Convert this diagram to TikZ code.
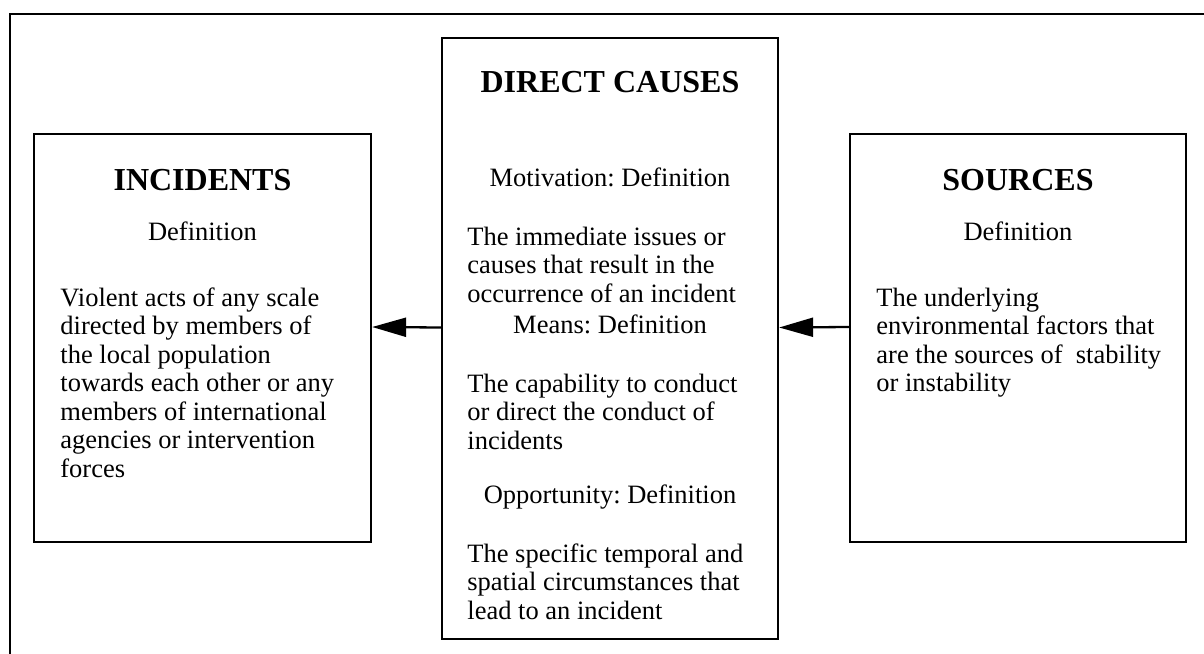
\documentclass[tikz,border=0pt]{standalone}
\usepackage{fontspec}
\setmainfont{Liberation Serif}
\usetikzlibrary{arrows.meta,positioning}
\frenchspacing
\newcommand{\bodysize}{\fontsize{13.25}{14.25}\selectfont}
\newcommand{\headsize}{\fontsize{16}{19}\selectfont\bfseries}

\begin{document}
\begin{tikzpicture}[x=0.5pt,y=-0.5pt,line join=miter,
  box/.style={draw,line width=1.15pt,inner sep=0pt},
  head/.style={font=\headsize,inner sep=0pt,anchor=base},
  sub/.style={font=\bodysize,inner sep=0pt,anchor=base},
  body/.style={font=\bodysize,inner sep=0pt,anchor=base west},
  flow/.style={-{Triangle[length=17pt,width=9.5pt]},line width=1.15pt}]
\useasboundingbox (0,0) rectangle (1204,653);
\coordinate (fb) at (10,670);
\coordinate (fc) at (10,14);
\coordinate (fr) at (1220,14);
\draw[line width=1.15pt] (fb)--(fc)--(fr);
\node[box,minimum width=168.5pt,minimum height=204pt] (inc) at (202.5,338) {};
\node[box,minimum width=168pt,minimum height=300.5pt] (dir) at (610,338.5) {};
\node[box,minimum width=168pt,minimum height=204pt] (src) at (1018,338) {};
\node[head] (inctitle) at (202.5,190) {INCIDENTS};
\node[sub] (incdef) at (202.5,240) {Definition};
\foreach \txt [count=\i from 0] in {Violent acts of any scale,directed by members of,the local population,towards each other or any,members of international,agencies or intervention,forces}
  \node[body] (incl\i) at (60,{306+28.5*\i}) {\txt};
\node[head] (dirtitle) at (610,92) {DIRECT CAUSES};
\node[sub] (motdef) at (610,186) {Motivation: Definition};
\foreach \txt [count=\i from 0] in {The immediate issues or,causes that result in the,occurrence of an incident}
  \node[body] (motl\i) at (467,{245+28.5*\i}) {\txt};
\node[sub] (meadef) at (610,333) {Means: Definition};
\foreach \txt [count=\i from 0] in {The capability to conduct,or direct the conduct of,incidents}
  \node[body] (meal\i) at (467,{392+28.5*\i}) {\txt};
\node[sub] (oppdef) at (610,503) {Opportunity: Definition};
\foreach \txt [count=\i from 0] in {The specific temporal and,spatial circumstances that,lead to an incident}
  \node[body] (oppl\i) at (467,{562+28.5*\i}) {\txt};
\node[head] (srctitle) at (1018,190) {SOURCES};
\node[sub] (srcdef) at (1018,240) {Definition};
\foreach \txt [count=\i from 0] in {The underlying,environmental factors that,are the sources of\ \ stability,or instability}
  \node[body] (srcl\i) at (876,{306+28.5*\i}) {\txt};
\draw[flow] ([yshift=5.5pt]dir.west)--([yshift=5.5pt]inc.east);
\draw[flow] ([yshift=5.5pt]src.west)--([yshift=5.5pt]dir.east);
\end{tikzpicture}
\end{document}
